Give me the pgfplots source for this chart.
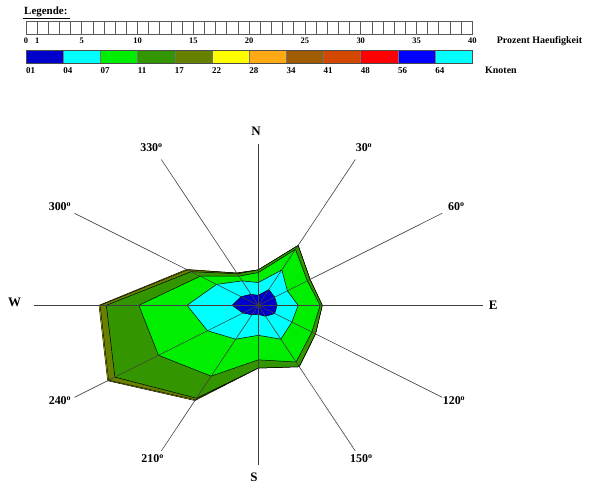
\documentclass[border=0pt]{standalone}
\usepackage{pgfplots}
\pgfplotsset{compat=1.18}
\usepackage{pgfplotstable}
\usepackage{fontspec}
\setmainfont{Liberation Serif}

\definecolor{cA}{RGB}{0,0,204}
\definecolor{cB}{RGB}{0,255,255}
\definecolor{cC}{RGB}{0,238,0}
\definecolor{cD}{RGB}{51,150,0}
\definecolor{cE}{RGB}{102,128,0}
\definecolor{cF}{RGB}{255,255,0}
\definecolor{cG}{RGB}{255,170,20}
\definecolor{cH}{RGB}{160,92,0}
\definecolor{cI}{RGB}{210,72,0}
\definecolor{cJ}{RGB}{255,0,0}
\definecolor{cK}{RGB}{0,0,255}
\definecolor{cL}{RGB}{0,255,255}

% cumulative percentage per direction: 01-04, -07, -11, -17, -22, -28 knots
\pgfplotstableread{
a   b1   b2   b3    b4    b5    b6
0   1.1  2.5  3.6   3.9   3.9   3.9
30  2.0  4.5  7.1   7.6   7.6   7.6
60  1.8  3.2  5.4   5.7   5.7   5.7
90  1.8  3.8  5.9   6.1   6.1   6.1
120 1.8  3.7  5.9   6.3   6.3   6.3
150 1.4  4.3  7.2   7.8   7.8   7.8
180 1.0  3.3  6.0   6.9   6.9   6.9
210 1.2  4.3  9.0   11.8  12.0  12.1
240 1.7  5.6  11.0  15.8  16.5  16.6
270 2.5  6.8  11.4  14.5  15.1  15.2
300 1.9  4.6  6.4   7.4   7.8   7.9
330 1.4  3.1  3.7   4.0   4.1   4.1
360 1.1  2.5  3.6   3.9   3.9   3.9
}\rosedata

\begin{document}
\begin{tikzpicture}
\begin{axis}[width=591bp,height=483bp,scale only axis,
  xmin=0,xmax=591,ymin=0,ymax=483,y dir=reverse,
  hide axis,clip=false]
\path (axis cs:0,0) rectangle (axis cs:591,483);

% ---- legend ----
\node[anchor=base west,inner sep=0pt,font=\fontsize{11}{13}\selectfont\bfseries] at (axis cs:24,15) {Legende:};
\draw[black,line width=0.8bp] (axis cs:22.5,18.5) -- (axis cs:70,18.5);
\pgfplotsinvokeforeach{0,...,39}{
  \draw[black!65,line width=0.8bp] (axis cs:{26+#1*11.158},21.7) rectangle (axis cs:{26+(#1+1)*11.158},34.3);
}
\pgfplotsinvokeforeach{0,1,5,10,15,20,25,30,35,40}{
  \node[anchor=base,inner sep=0pt,font=\fontsize{8.5}{10}\selectfont\bfseries] at (axis cs:{26+#1*11.158},43.2) {#1};
}
\node[anchor=base west,inner sep=0pt,font=\fontsize{10}{12}\selectfont\bfseries] at (axis cs:496.7,44) {Prozent Haeufigkeit};

\fill[cA] (axis cs:26,50.7) rectangle (axis cs:63.19,63.3);
\fill[cB] (axis cs:63.19,50.7) rectangle (axis cs:100.38,63.3);
\fill[cC] (axis cs:100.38,50.7) rectangle (axis cs:137.57,63.3);
\fill[cD] (axis cs:137.57,50.7) rectangle (axis cs:174.76,63.3);
\fill[cE] (axis cs:174.76,50.7) rectangle (axis cs:211.95,63.3);
\fill[cF] (axis cs:211.95,50.7) rectangle (axis cs:249.14,63.3);
\fill[cG] (axis cs:249.14,50.7) rectangle (axis cs:286.33,63.3);
\fill[cH] (axis cs:286.33,50.7) rectangle (axis cs:323.52,63.3);
\fill[cI] (axis cs:323.52,50.7) rectangle (axis cs:360.71,63.3);
\fill[cJ] (axis cs:360.71,50.7) rectangle (axis cs:397.9,63.3);
\fill[cK] (axis cs:397.9,50.7) rectangle (axis cs:435.09,63.3);
\fill[cL] (axis cs:435.09,50.7) rectangle (axis cs:472.28,63.3);
\draw[black!70,line width=0.8bp] (axis cs:26,50.7) rectangle (axis cs:472.28,63.3);
\pgfplotsinvokeforeach{1,...,11}{
  \draw[black!55,line width=0.5bp] (axis cs:{26+#1*37.19},50.7) -- (axis cs:{26+#1*37.19},63.3);
}
\begin{scope}[every node/.style={anchor=base west,inner sep=0pt,font=\fontsize{9}{10}\selectfont\bfseries}]
\node at (axis cs:26,74) {01};
\node at (axis cs:63.19,74) {04};
\node at (axis cs:100.38,74) {07};
\node at (axis cs:137.57,74) {11};
\node at (axis cs:174.76,74) {17};
\node at (axis cs:211.95,74) {22};
\node at (axis cs:249.14,74) {28};
\node at (axis cs:286.33,74) {34};
\node at (axis cs:323.52,74) {41};
\node at (axis cs:360.71,74) {48};
\node at (axis cs:397.9,74) {56};
\node at (axis cs:435.09,74) {64};
\end{scope}
\node[anchor=base west,inner sep=0pt,font=\fontsize{10}{12}\selectfont\bfseries] at (axis cs:485,74) {Knoten};

% ---- wind rose layers ----
\addplot[fill=cF,draw=black,line width=0.5bp] table[x expr={258.3+10.48*\thisrow{b6}*sin(\thisrow{a})},y expr={305.3-9.09*\thisrow{b6}*cos(\thisrow{a})}]{\rosedata} -- cycle;
\addplot[fill=cE,draw=black,line width=0.5bp] table[x expr={258.3+10.48*\thisrow{b5}*sin(\thisrow{a})},y expr={305.3-9.09*\thisrow{b5}*cos(\thisrow{a})}]{\rosedata} -- cycle;
\addplot[fill=cD,draw=black,line width=0.5bp] table[x expr={258.3+10.48*\thisrow{b4}*sin(\thisrow{a})},y expr={305.3-9.09*\thisrow{b4}*cos(\thisrow{a})}]{\rosedata} -- cycle;
\addplot[fill=cC,draw=black,line width=0.5bp] table[x expr={258.3+10.48*\thisrow{b3}*sin(\thisrow{a})},y expr={305.3-9.09*\thisrow{b3}*cos(\thisrow{a})}]{\rosedata} -- cycle;
\addplot[fill=cB,draw=black,line width=0.5bp] table[x expr={258.3+10.48*\thisrow{b2}*sin(\thisrow{a})},y expr={305.3-9.09*\thisrow{b2}*cos(\thisrow{a})}]{\rosedata} -- cycle;
\addplot[fill=cA,draw=black,line width=0.5bp] table[x expr={258.3+10.48*\thisrow{b1}*sin(\thisrow{a})},y expr={305.3-9.09*\thisrow{b1}*cos(\thisrow{a})}]{\rosedata} -- cycle;

% ---- spokes ----
\addplot[black!75,line width=0.6bp] coordinates {(258.3,143.5) (258.3,465)};
\addplot[black!75,line width=0.6bp] coordinates {(34,305.3) (483,305.3)};
\addplot[black!75,line width=0.6bp] coordinates {(355.3,159.5) (161.3,451)};
\addplot[black!75,line width=0.6bp] coordinates {(442.2,213.3) (74.5,397.3)};
\addplot[black!75,line width=0.6bp] coordinates {(442.2,397.3) (74.5,213.3)};
\addplot[black!75,line width=0.6bp] coordinates {(355.3,451) (161.3,159.5)};

% ---- direction labels ----
\begin{scope}[every node/.style={inner sep=0pt,anchor=base,font=\fontsize{13}{15}\selectfont\bfseries}]
\node at (axis cs:256,135) {N};
\node at (axis cs:254,481) {S};
\node at (axis cs:14.5,306.7) {W};
\node at (axis cs:493.3,309) {E};
\end{scope}
\begin{scope}[every node/.style={inner sep=0pt,anchor=base,font=\fontsize{12}{14}\selectfont\bfseries}]
\node at (axis cs:151.5,151.7) {330\textsuperscript{o}};
\node at (axis cs:364,151.7) {30\textsuperscript{o}};
\node at (axis cs:60,210.8) {300\textsuperscript{o}};
\node at (axis cs:456.4,210.8) {60\textsuperscript{o}};
\node at (axis cs:60,404.5) {240\textsuperscript{o}};
\node at (axis cs:454,404.5) {120\textsuperscript{o}};
\node at (axis cs:152.7,462.5) {210\textsuperscript{o}};
\node at (axis cs:361.3,462.5) {150\textsuperscript{o}};
\end{scope}
\end{axis}
\end{tikzpicture}
\end{document}
